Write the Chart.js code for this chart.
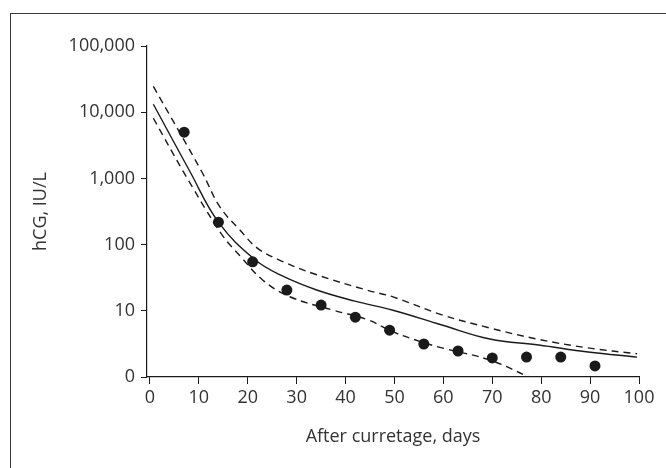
<!DOCTYPE html>
<html lang="en">
<head>
    <meta charset="UTF-8">
    <title>hCG after curettage</title>
    <script src="https://cdn.jsdelivr.net/npm/chart.js"></script>
    <style>
        html, body {
            margin: 0;
            padding: 0;
            background: #fff;
        }

        #wrap {
            position: relative;
            width: 666px;
            height: 468px;
            overflow: hidden;
        }

        #frame {
            position: absolute;
            left: 10px;
            top: 13px;
            width: 700px;
            height: 500px;
            border-top: 1.5px solid #3a3a3a;
            border-left: 1.5px solid #3a3a3a;
            pointer-events: none;
        }
    </style>
</head>
<body>
    <div id="wrap">
        <canvas id="hcgChart" width="666" height="468"></canvas>
        <div id="frame"></div>
    </div>

    <script>
        // weekly measured values (dots)
        const dotDays = [7, 14, 21, 28, 35, 42, 49, 56, 63, 70, 77, 84, 91];
        const dotHcg = [5000, 218, 55, 20.6, 12.2, 8.0, 5.1, 3.15, 2.47, 1.94, 2.0, 2.0, 1.47];

        // reference curve (solid) and its bounds (dashed)
        const meanDays = [0.7, 8.2, 14.0, 21.5, 27.3, 34.1, 41.7, 49.7, 59.7, 69.5, 79.5, 89.6, 99.6];
        const meanHcg = [13200, 1260, 219, 59, 33, 20.6, 14.1, 10.2, 6.1, 3.75, 3.04, 2.39, 2.0];

        const upperDays = [0.7, 10.6, 14.3, 18.4, 22.1, 27.3, 34.1, 44.3, 49.7, 59.7, 69.5, 79.5, 89.6, 99.6];
        const upperHcg = [24500, 1260, 372, 166, 87, 55, 35, 20.6, 16.2, 8.7, 5.5, 3.7, 2.75, 2.24];

        const lowerDays = [0.7, 6.6, 8.85, 11.25, 15.0, 18.4, 23.1, 28.6, 37.5, 44.6, 49.7, 56, 59.7, 69.5, 77.5];
        const lowerHcg = [8100, 1350, 708, 355, 132, 68, 29, 16.3, 10.2, 7.3, 4.8, 3.3, 2.75, 1.8, 1.0];

        const xTicks = [0, 10, 20, 30, 40, 50, 60, 70, 80, 90, 100];
        const yTicks = [1, 10, 100, 1000, 10000, 100000];
        const yTickLabels = ['0', '10', '100', '1,000', '10,000', '100,000'];

        const toPoints = (xs, ys) => xs.map((x, i) => ({ x: x, y: ys[i] }));

        const ink = '#1a1a1a';
        const textColor = '#333';
        const font = { family: "'Open Sans', sans-serif", size: 18 };

        const curve = (pts, dash) => ({
            data: pts,
            borderColor: ink,
            borderWidth: 1.4,
            borderDash: dash,
            pointRadius: 0,
            fill: false,
            tension: 0.4
        });

        const ctx = document.getElementById('hcgChart').getContext('2d');
        new Chart(ctx, {
            type: 'line',
            data: {
                datasets: [
                    curve(toPoints(meanDays, meanHcg), []),
                    curve(toPoints(upperDays, upperHcg), [7, 5]),
                    curve(toPoints(lowerDays, lowerHcg), [7, 5]),
                    {
                        data: toPoints(dotDays, dotHcg),
                        showLine: false,
                        pointRadius: 5.5,
                        pointBackgroundColor: ink,
                        pointBorderColor: ink,
                        pointBorderWidth: 0
                    }
                ]
            },
            options: {
                responsive: false,
                animation: false,
                layout: {
                    padding: { left: 26, top: 46, right: 27, bottom: 16 }
                },
                plugins: {
                    legend: { display: false },
                    tooltip: { enabled: false }
                },
                scales: {
                    x: {
                        type: 'linear',
                        min: -0.6,
                        max: 100,
                        afterBuildTicks: s => { s.ticks = xTicks.map(v => ({ value: v })); },
                        afterFit: s => { s.height = 75; },
                        grid: {
                            drawOnChartArea: false,
                            drawTicks: true,
                            tickLength: 7,
                            color: ink
                        },
                        border: { display: true, color: ink, width: 1.2 },
                        ticks: {
                            font: font,
                            color: textColor,
                            padding: 3,
                            maxRotation: 0
                        },
                        title: {
                            display: true,
                            text: 'After curretage, days',
                            font: font,
                            color: textColor,
                            padding: { top: 4, bottom: 4 }
                        }
                    },
                    y: {
                        type: 'logarithmic',
                        min: 1,
                        max: 100000,
                        afterBuildTicks: s => { s.ticks = yTicks.map(v => ({ value: v })); },
                        afterFit: s => { s.width = 121; },
                        grid: {
                            drawOnChartArea: false,
                            drawTicks: true,
                            tickLength: 6,
                            color: ink
                        },
                        border: { display: true, color: ink, width: 1.2 },
                        ticks: {
                            font: font,
                            color: textColor,
                            padding: 6,
                            callback: (value, index) => yTickLabels[index]
                        },
                        title: {
                            display: true,
                            text: 'hCG, IU/L',
                            font: font,
                            color: textColor,
                            padding: { top: 4, bottom: 4 }
                        }
                    }
                }
            }
        });
    </script>
</body>
</html>
